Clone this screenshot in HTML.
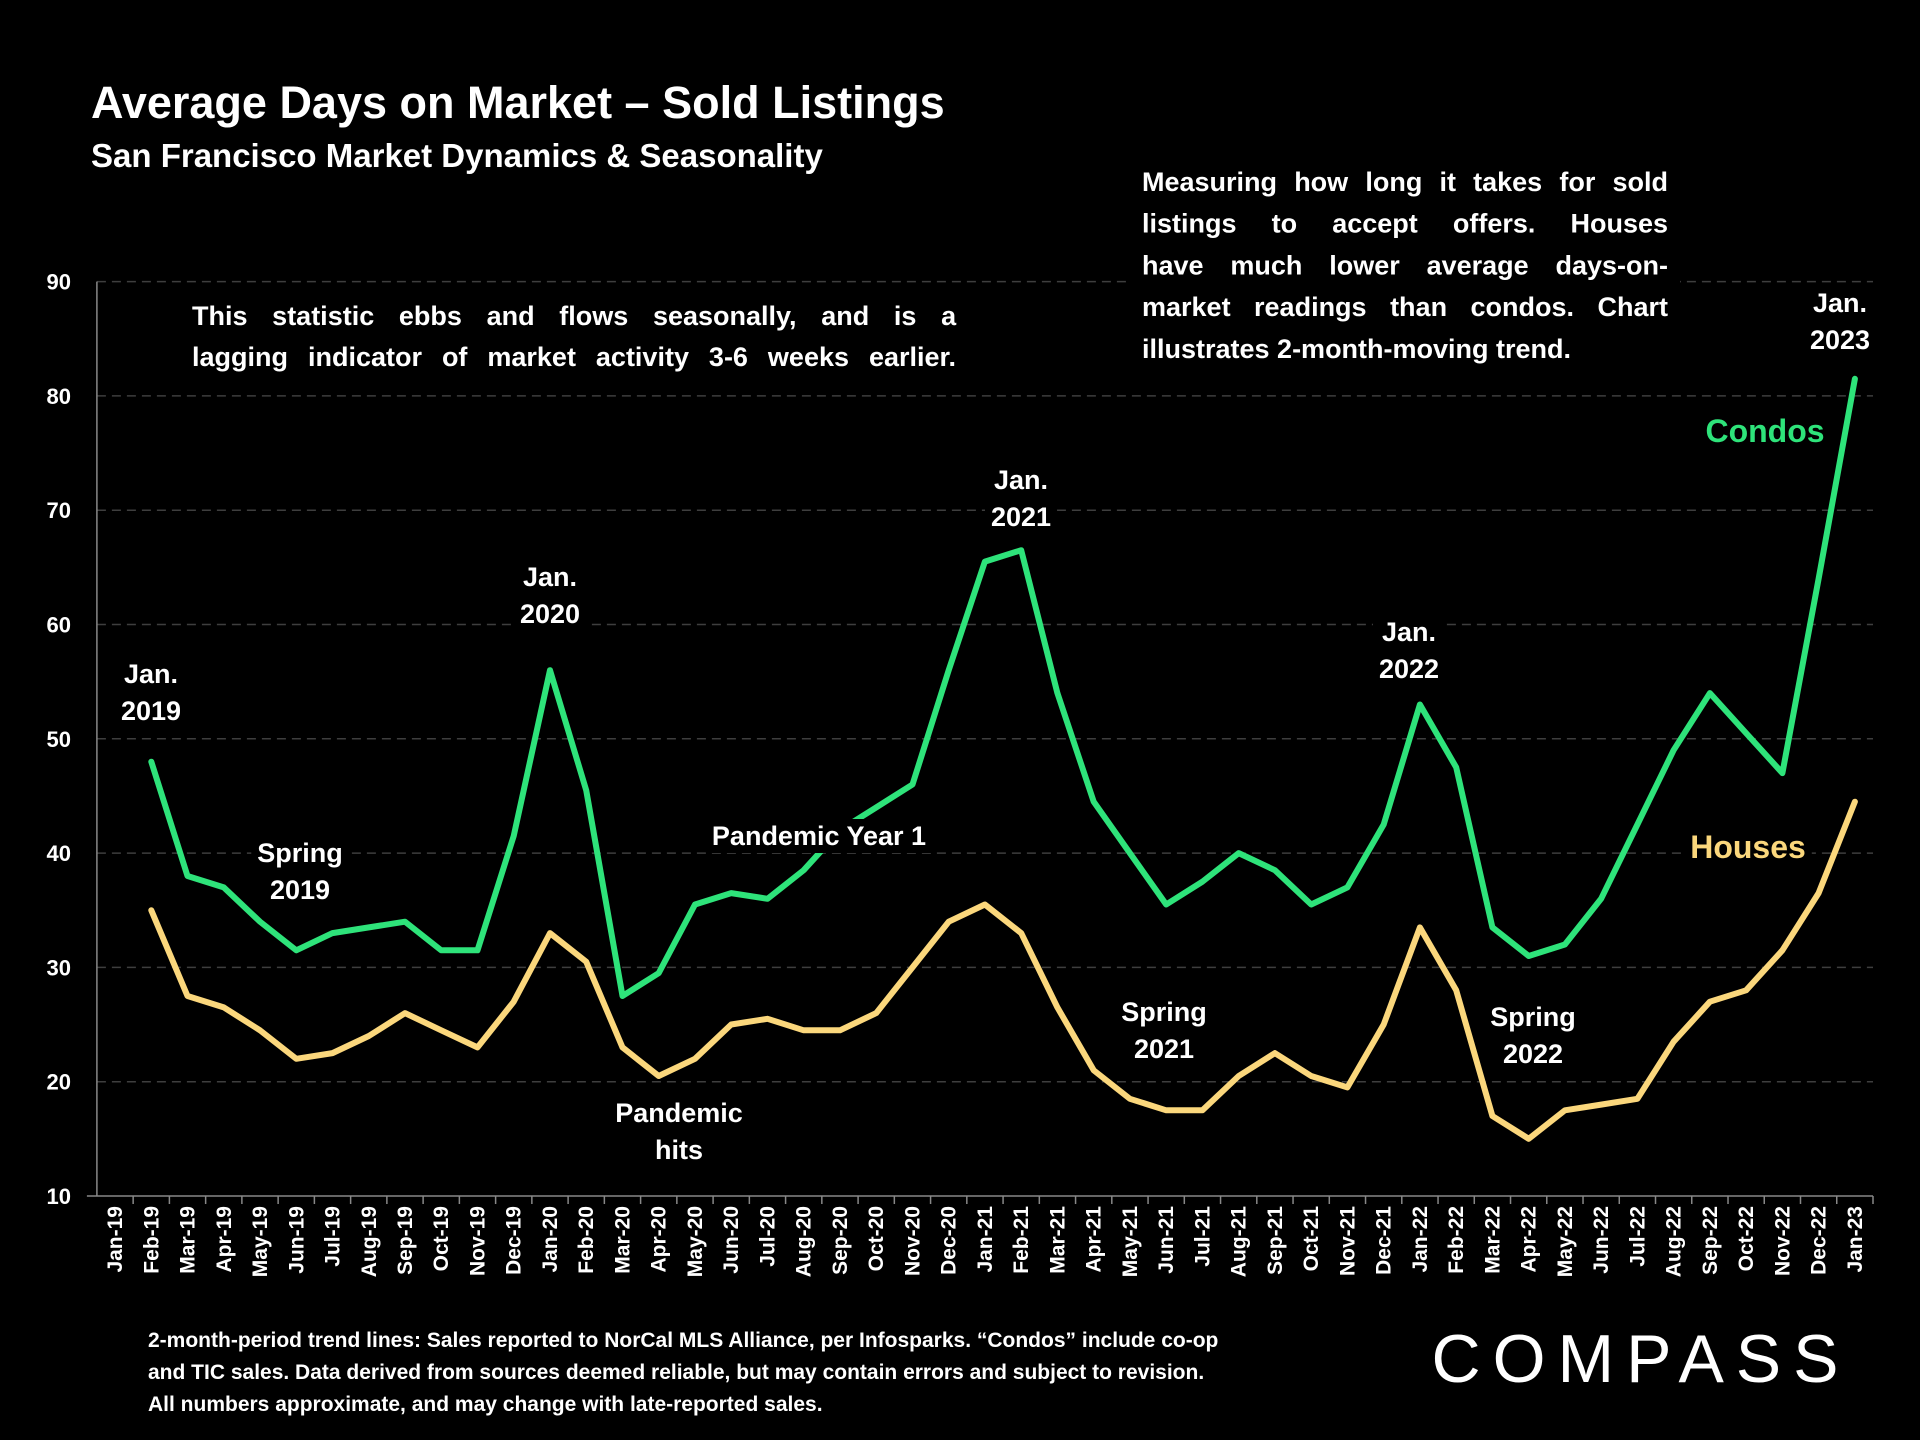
<!DOCTYPE html>
<html><head><meta charset="utf-8"><style>
html,body{margin:0;padding:0;background:#000;}
svg{display:block;font-family:"Liberation Sans",sans-serif;font-weight:bold;}
</style></head><body>
<svg id="chart" width="1920" height="1440" viewBox="0 0 1920 1440">
<rect width="1920" height="1440" fill="#000"/>
<g id="grid"></g>
<g id="axes"></g>
<g id="series"></g>
<g id="notes"></g>
<text x="91" y="118" fill="#fff" font-size="45">Average Days on Market – Sold Listings</text>
<text x="91" y="167" fill="#fff" font-size="33">San Francisco Market Dynamics &amp; Seasonality</text>
<g fill="#fff" font-size="21">
<text x="148" y="1347">2-month-period trend lines: Sales reported to NorCal MLS Alliance, per Infosparks. “Condos” include co-op</text>
<text x="148" y="1379">and TIC sales. Data derived from sources deemed reliable, but may contain errors and subject to revision.</text>
<text x="148" y="1411">All numbers approximate, and may change with late-reported sales.</text>
</g>
<text x="1641" y="1382" text-anchor="middle" fill="#fff" font-size="68" font-weight="normal" letter-spacing="12">COMPASS</text>
</svg>
<script>
const categories=["Jan-19","Feb-19","Mar-19","Apr-19","May-19","Jun-19","Jul-19","Aug-19","Sep-19","Oct-19","Nov-19","Dec-19","Jan-20","Feb-20","Mar-20","Apr-20","May-20","Jun-20","Jul-20","Aug-20","Sep-20","Oct-20","Nov-20","Dec-20","Jan-21","Feb-21","Mar-21","Apr-21","May-21","Jun-21","Jul-21","Aug-21","Sep-21","Oct-21","Nov-21","Dec-21","Jan-22","Feb-22","Mar-22","Apr-22","May-22","Jun-22","Jul-22","Aug-22","Sep-22","Oct-22","Nov-22","Dec-22","Jan-23"];
const condos=[null,48,38,37,34,31.5,33,33.5,34,31.5,31.5,41.5,56,45.5,27.5,29.5,35.5,36.5,36,38.5,42,44,46,56,65.5,66.5,54,44.5,40,35.5,37.5,40,38.5,35.5,37,42.5,53,47.5,33.5,31,32,36,42.5,49,54,50.5,47,64,81.5];
const houses=[null,35,27.5,26.5,24.5,22,22.5,24,26,24.5,23,27,33,30.5,23,20.5,22,25,25.5,24.5,24.5,26,30,34,35.5,33,26.5,21,18.5,17.5,17.5,20.5,22.5,20.5,19.5,25,33.5,28,17,15,17.5,18,18.5,23.5,27,28,31.5,36.5,44.5];
const yTicks=[10,20,30,40,50,60,70,80,90];
const NS="http://www.w3.org/2000/svg";
const X0=96.9,X1=1873,Y0=1196,Y1=281.6,VMIN=10,VMAX=90;
const bw=(X1-X0)/categories.length;
function xScale(i){return X0+bw*(i+0.5);}
function yScale(v){return Y0-(v-VMIN)*(Y0-Y1)/(VMAX-VMIN);}
function mk(tag,attrs,parent){const e=document.createElementNS(NS,tag);for(const k in attrs)e.setAttribute(k,attrs[k]);parent.appendChild(e);return e;}
const grid=document.getElementById('grid'),axes=document.getElementById('axes'),series=document.getElementById('series'),notes=document.getElementById('notes');
yTicks.forEach(v=>{
  if(v>VMIN){const l=mk('line',{x1:X0,x2:X1,y1:yScale(v),y2:yScale(v),stroke:'#3e3e3e','stroke-width':1.5,'stroke-dasharray':'9 6'},grid);
  
  }
  const t=mk('text',{x:71,y:yScale(v)+8,'text-anchor':'end',fill:'#fff','font-size':22},axes);t.textContent=v;
  
  
});
let a=mk('line',{x1:X0,x2:X0,y1:Y1,y2:Y0,stroke:'#888','stroke-width':1.5},axes);


a=mk('line',{x1:X0-10,x2:X1,y1:Y0,y2:Y0,stroke:'#888','stroke-width':1.5},axes);


categories.forEach((c,i)=>{
  const xt=X0+bw*(i+1);
  mk('line',{x1:xt,x2:xt,y1:Y0,y2:Y0+8,stroke:'#888','stroke-width':1.5},axes);
  const x=xScale(i)+7;
  const t=mk('text',{x:x,y:1206,'text-anchor':'end',fill:'#fff','font-size':21,transform:`rotate(-90 ${x} 1206)`},axes);
  t.textContent=c;
  
  
});
function line(vals,color,name){
  let d='';vals.forEach((v,i)=>{if(v==null)return;d+=(d?'L':'M')+xScale(i).toFixed(1)+','+yScale(v).toFixed(1);});
  const p=mk('path',{d:d,fill:'none',stroke:color,'stroke-width':6,'stroke-linejoin':'round','stroke-linecap':'round'},series);
  
  
}
line(condos,'#2ee37a','condos-line');
line(houses,'#fbd77c','houses-line');
function label(lines,cx,y0,name,color,size){
  const lh=37;
  const g=mk('g',{},notes);
  
  
  const bg=mk('rect',{fill:'#000'},g);
  lines.forEach((s,k)=>{const t=mk('text',{x:cx,y:y0+k*lh,'text-anchor':'middle',fill:color||'#fff','font-size':size||27},g);t.textContent=s;});
  const b=g.getBBox();bg.setAttribute('x',b.x-6);bg.setAttribute('y',b.y-2);bg.setAttribute('width',b.width+12);bg.setAttribute('height',b.height+4);
}
label(['Jan.','2019'],151,683,'label-jan-2019');
label(['Spring','2019'],300,862,'label-spring-2019');
label(['Jan.','2020'],550,586,'label-jan-2020');
label(['Pandemic Year 1'],819,845,'label-pandemic-year-1');
label(['Pandemic','hits'],679,1122,'label-pandemic-hits');
label(['Jan.','2021'],1021,489,'label-jan-2021');
label(['Spring','2021'],1164,1021,'label-spring-2021');
label(['Jan.','2022'],1409,641,'label-jan-2022');
label(['Spring','2022'],1533,1026,'label-spring-2022');
label(['Jan.','2023'],1840,312,'label-jan-2023');
label(['Condos'],1765,442,'legend-condos','#2ee37a',32);
label(['Houses'],1748,858,'legend-houses','#fbd77c',32);
function block(lines,x,w,y0,lh,name){
  const g=mk('g',{},notes);
  
  
  mk('rect',{x:x-12,y:y0-lh+2,width:w+24,height:lh*lines.length+8,fill:'#000'},g);
  lines.forEach((s,k)=>{
    const last=k===lines.length-1&&lines.length>2;
    const t=mk('text',{x:x,y:y0+k*lh,fill:'#fff','font-size':27},g);
    t.textContent=s;
    if(!last){
      const words=s.split(' ');
      t.textContent=words.join('');
      const sw=t.getComputedTextLength();
      const gap=(w-sw)/(words.length-1);
      t.textContent='';
      let cx=x;
      words.forEach(wd=>{const ts=mk('tspan',{x:cx},t);ts.textContent=wd;cx+=ts.getComputedTextLength()+gap;});
    }
  });
}
block(['This statistic ebbs and flows seasonally, and is a','lagging indicator of market activity 3-6 weeks earlier.'],192,764,325,41,'note-seasonality');
block(['Measuring how long it takes for sold','listings to accept offers. Houses','have much lower average days-on-','market readings than condos. Chart','illustrates 2-month-moving trend.'],1142,526,191,41.7,'note-measuring');
</script>
</body></html>
